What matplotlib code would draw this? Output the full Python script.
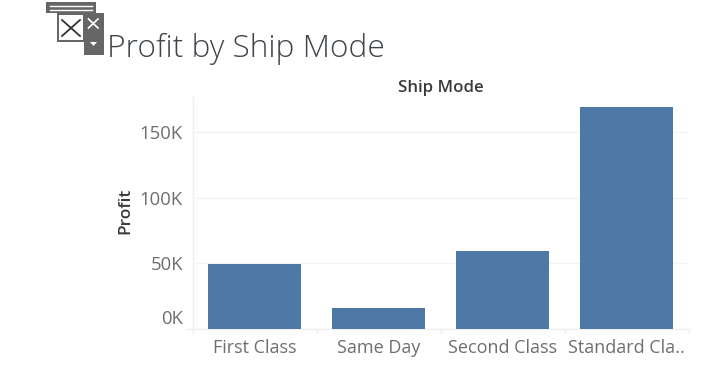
import matplotlib
matplotlib.use("Agg")
import matplotlib.pyplot as plt
from matplotlib.patches import Rectangle
from matplotlib.transforms import ScaledTranslation

plt.rcParams['font.family'] = ['Open Sans', 'DejaVu Sans']

ship_modes = ["First Class", "Same Day", "Second Class", "Standard Cla.."]
profit = [49500, 16000, 59500, 169000]
y_ticks = [0, 50000, 100000, 150000]
y_labels = ["0K", "50K", "100K", "150K"]

W, H = 702, 378
fig = plt.figure(figsize=(W / 100, H / 100), dpi=100, facecolor="white")

def box(l, t, r, b):
    return [l / W, 1 - b / H, (r - l) / W, (b - t) / H]

ax = fig.add_axes(box(192.5, 97, 688.5, 329))
ax.bar(range(4), profit, width=0.75, color="#4e79a7", zorder=3)
ax.set_xlim(-0.5, 3.5)
ax.set_ylim(0, 176500)
ax.set_xticks(range(4), ship_modes)
ax.set_yticks(y_ticks, y_labels)
ax.tick_params(axis="x", length=0, labelsize=13, labelcolor="#6e6e6e", pad=7)
ax.tick_params(axis="y", length=0, labelsize=13.3, labelcolor="#6e6e6e", pad=7)
ax.grid(axis="y", color="#f4f4f4", linewidth=1, zorder=0)
ax.set_axisbelow(True)
for s in ("top", "right"):
    ax.spines[s].set_visible(False)
for s in ("left", "bottom"):
    ax.spines[s].set_color("#efefef")
    ax.spines[s].set_linewidth(1)
ax.set_ylabel("Profit", fontsize=12.5, color="#3a3a3a", fontweight="semibold")
ax.yaxis.set_label_coords((133 - 192.5) / 496, (329 - 211) / 232)

# the zero label sits above the baseline in the reference
zero_label = ax.get_yticklabels()[0]
zero_label.set_transform(zero_label.get_transform()
                         + ScaledTranslation(0, 12 / 100, fig.dpi_scale_trans))

# Overlay in pixel coordinates for the title, field header and floating controls
ov = fig.add_axes([0, 0, 1, 1], facecolor="none")
ov.set_xlim(0, W)
ov.set_ylim(H, 0)
ov.axis("off")

ov.text(107, 49, "Profit by Ship Mode", fontsize=22.8, color="#40454b",
        fontweight="light", va="center", ha="left")
ov.text(440.5, 88, "Ship Mode", fontsize=12.2, color="#3a3a3a", va="center",
        ha="center", fontweight="semibold")

# axis tick stubs
for x in (192.5, 316.5, 440.5, 564.5, 688.5):
    ov.plot([x, x], [329, 333], color="#efefef", lw=1)
ov.plot([187, 192.5], [329, 329], color="#efefef", lw=1)

# floating container controls
g = "#666666"
ov.add_patch(Rectangle((46, 2), 50, 11, color=g, lw=0, zorder=2))
ov.plot([50, 92], [5.5, 5.5], color="white", lw=1, zorder=3)
ov.plot([50, 92], [10, 10], color="white", lw=1, zorder=3)
ov.add_patch(Rectangle((57, 13), 27, 29, facecolor=g, lw=0, zorder=2))
ov.add_patch(Rectangle((59, 15), 24, 25, facecolor="white", edgecolor="none", zorder=3))
ov.plot([62, 80], [20, 36], color="#333333", lw=1.3, zorder=4)
ov.plot([62, 80], [36, 20], color="#333333", lw=1.3, zorder=4)
ov.add_patch(Rectangle((84, 13), 20, 42, color=g, lw=0, zorder=2))
ov.plot([88.5, 98], [19, 28], color="white", lw=1.2, zorder=3)
ov.plot([88.5, 98], [28, 19], color="white", lw=1.2, zorder=3)
ov.fill([90, 97, 93.5], [42, 42, 46], color="white", lw=0, zorder=3)

fig.savefig("out.png", dpi=100)
